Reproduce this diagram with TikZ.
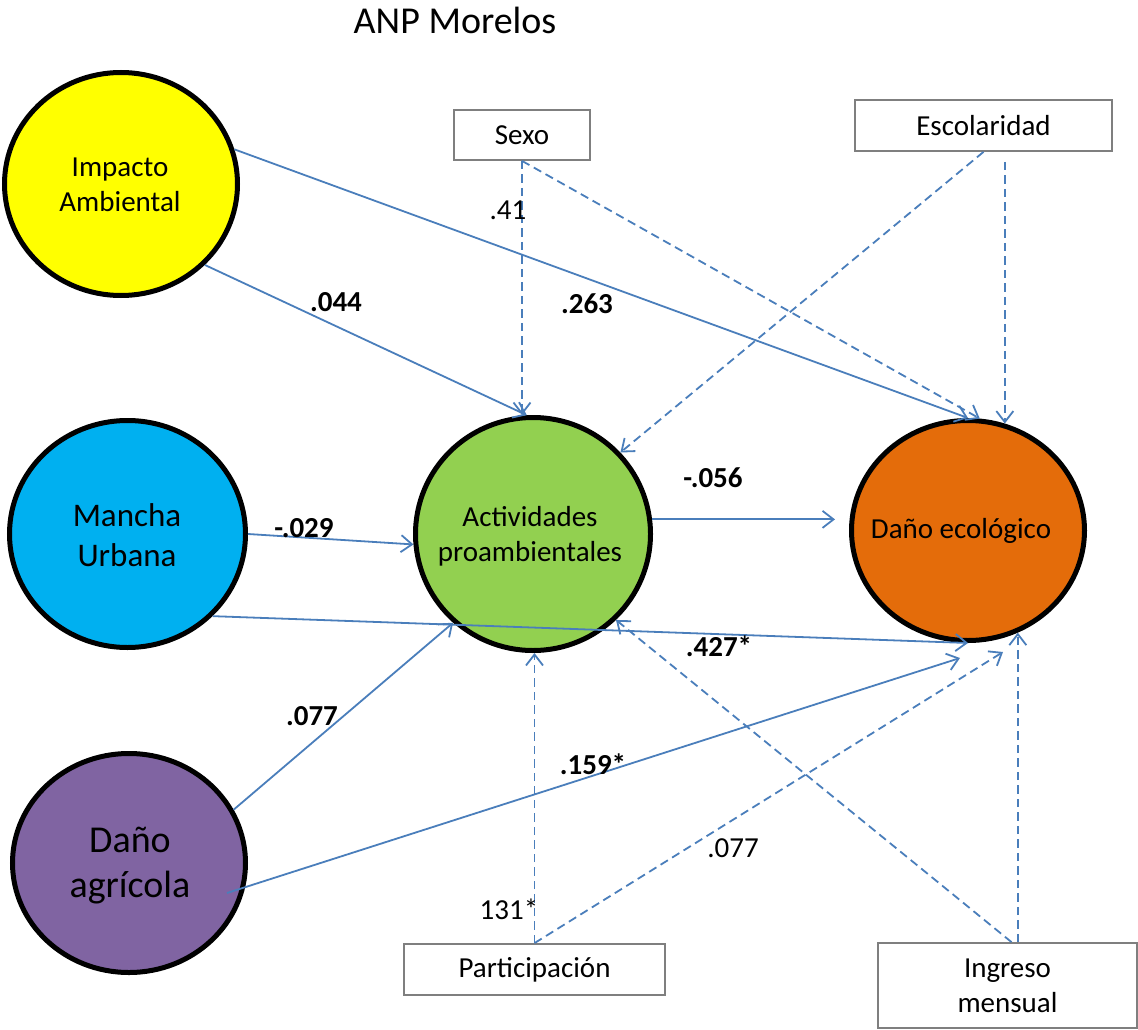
\documentclass[tikz,border=0pt]{standalone}
\usepackage{fontspec}
\setmainfont{Carlito}
\usetikzlibrary{shapes.geometric,arrows.meta,calc}
\definecolor{fillyellow}{HTML}{FFFF00}
\definecolor{fillblue}{HTML}{00B0F0}
\definecolor{fillgreen}{HTML}{92D050}
\definecolor{fillorange}{HTML}{E46C0A}
\definecolor{fillpurple}{HTML}{8064A2}
\definecolor{arrowblue}{HTML}{4A7EBB}
\definecolor{boxgray}{HTML}{7F7F7F}
\begin{document}
\begin{tikzpicture}[x=1pt,y=-1pt,
  latent/.style={ellipse,draw=black,line width=5pt,inner sep=0pt},
  obs/.style={rectangle,draw=boxgray,line width=1.8pt,fill=white,inner sep=0pt,
    font=\fontsize{29}{35}\selectfont,align=center},
  lbl/.style={align=center,inner sep=0pt},
  coef/.style={font=\bfseries\fontsize{29}{35}\selectfont,inner sep=0pt},
  coefn/.style={font=\fontsize{29}{35}\selectfont,inner sep=0pt},
  effect/.style={draw=arrowblue,line width=1.8pt,
    -{Straight Barb[length=11pt,width=17pt]}},
  control/.style={effect,dash pattern=on 8.5pt off 5pt}]
\useasboundingbox (0,0) rectangle (1138,1030);

% title
\node[inner sep=0pt,font=\fontsize{38}{45}\selectfont] (title) at (455,20) {ANP Morelos};

% latent constructs
\node[latent,fill=fillyellow,minimum width=233pt,minimum height=223pt] (imp) at (121,184) {};
\node[latent,fill=fillblue,minimum width=236pt,minimum height=227pt] (man) at (127.5,534) {};
\node[latent,fill=fillpurple,minimum width=233pt,minimum height=219pt] (agr) at (129,863) {};
\node[latent,fill=fillgreen,minimum width=235pt,minimum height=233pt] (act) at (533,534) {};
\node[latent,fill=fillorange,minimum width=233pt,minimum height=220pt] (dano) at (968,530.5) {};

\node[lbl,font=\fontsize{29}{35}\selectfont] (impT) at (120,185) {Impacto\\Ambiental};
\node[lbl,font=\fontsize{33}{40}\selectfont] (manT) at (127,535) {Mancha\\Urbana};
\node[lbl,font=\fontsize{38}{45}\selectfont] (agrT) at (130,866) {Daño\\agrícola};
\node[lbl,font=\fontsize{29}{35}\selectfont] (actT) at (530,536) {Actividades\\proambientales};
\node[lbl,font=\fontsize{29}{35}\selectfont] (danoT) at (961,531) {Daño ecológico};

% observed control variables
\node[obs,minimum width=136pt,minimum height=50pt] (sexo) at (522,135) {Sexo};
\node[obs,minimum width=257pt,minimum height=51pt] (esc) at (983.5,125.5) {Escolaridad};
\node[obs,minimum width=261pt,minimum height=51pt] (part) at (534.5,969.5) {Participación};
\node[obs,minimum width=259pt,minimum height=85pt] (ing) at (1007.5,985.5) {Ingreso\\mensual};

% structural paths
\draw[effect] (imp.17) -- (dano.north);
\draw[effect] (imp.-44) -- (act.93);
\draw[effect] (man.east) -- (act.185);
\draw[effect,shorten >=14pt] (act.7) -- (act.7 -| dano.west);
\draw[effect] (man.-44) -- (dano.south);
\draw[effect] (agr.27) -- (act.228);
\draw[effect] ($(agr.center)+(98,30)$) -- ($(dano.south)+(-8,15)$);

% control paths
\draw[control] (sexo.south) -- (sexo.south |- act.north);
\draw[control] (sexo.south) -- (dano.84);
\draw[control] (esc.south) -- (act.43);
\draw[control,shorten <=10pt] (dano.71 |- esc.south) -- (dano.71);
\draw[control] (part.north) -- (part.north |- act.south);
\draw[control] (part.north) -- ($(dano.south)+(35,9)$);
\draw[control] ($(ing.north)+(4,0)$) -- (act.-46);
\draw[control] (dano.-64 |- ing.north) -- (dano.-64);

% coefficients
\node[coef] (c1) at (336,302) {.044};
\node[coef] (c2) at (587,304) {.263};
\node[coef] (c3) at (304,528) {-.029};
\node[coef] (c4) at (713,478) {-.056};
\node[coef] (c5) at (719,646) {.427*};
\node[coef] (c6) at (312,716) {.077};
\node[coef] (c7) at (593,764) {.159*};
\node[coefn] (c8) at (508,210) {.41};
\node[coefn] (c9) at (733,848) {.077};
\node[coefn] (c10) at (509,909) {131*};
\end{tikzpicture}
\end{document}
